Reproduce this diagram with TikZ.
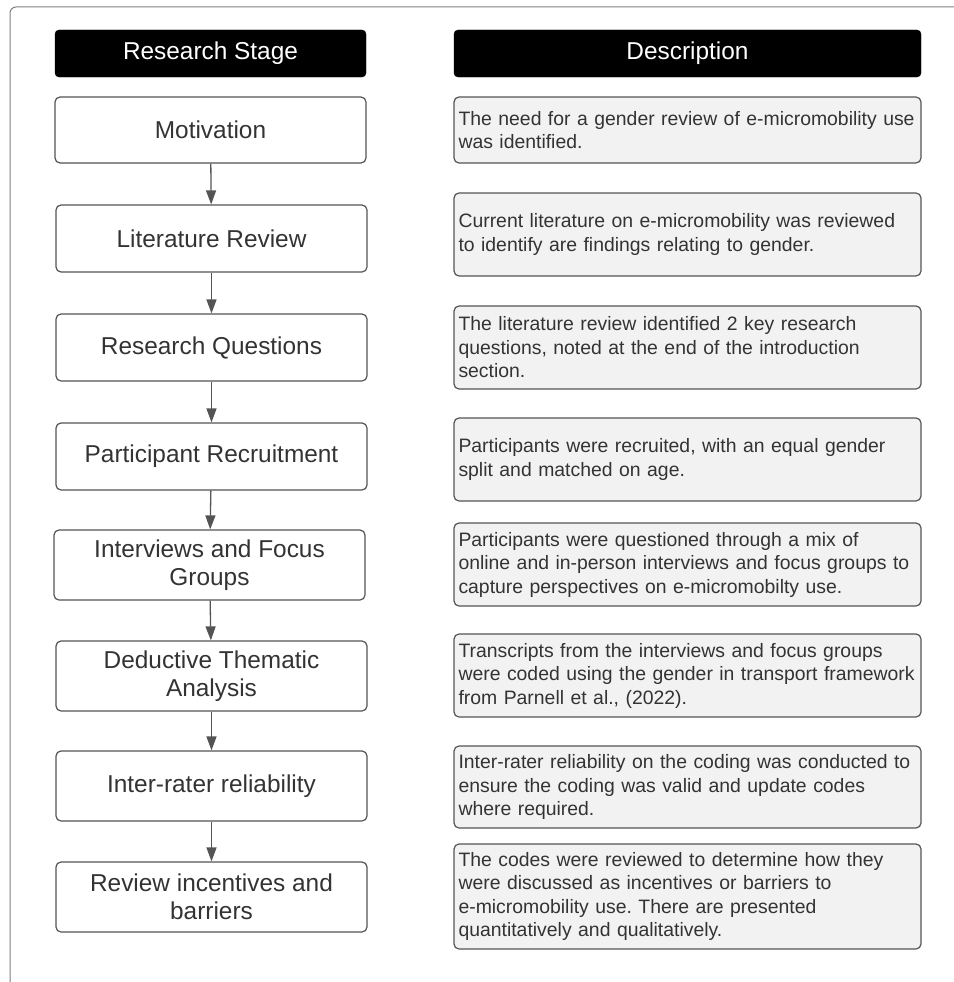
\documentclass[tikz,border=0pt]{standalone}
\usepackage{fontspec}
\setmainfont{Liberation Sans}
\usepackage{xcolor}
\usetikzlibrary{arrows.meta}
\definecolor{BoxLine}{rgb}{0.33,0.33,0.33}
\definecolor{BoxText}{rgb}{0.2,0.2,0.2}
\definecolor{DescFill}{rgb}{0.95,0.95,0.95}
\frenchspacing

\begin{document}
\begin{tikzpicture}[x=1pt, y=-1pt,
		head/.style={fill=black, draw=black, rounded corners=4pt, text=white, minimum height=47pt, inner sep=0pt, font=\fontsize{24.4}{28}\selectfont},
		stagebox/.style={draw=BoxLine, line width=1.2pt, rounded corners=5pt, fill=white, text=BoxText, minimum width=311pt, inner sep=0pt, align=center, font=\fontsize{24.4}{28.5}\selectfont},
		descbox/.style={draw=BoxLine, line width=1.2pt, rounded corners=5pt, fill=DescFill, text=BoxText, minimum width=467pt, text width=458pt, inner xsep=4.5pt, inner ysep=0pt, align=left, font=\fontsize{19.4}{23.5}\selectfont},
		flow/.style={BoxLine, line width=1.3pt, -{Triangle[width=10pt, length=14pt]}}]
		\useasboundingbox (0,0) rectangle (953,982);
		
		% outer frame, right and bottom edges fall outside the page
		\draw [gray, line width=1pt, rounded corners=6pt] (960,7) -- (10,7) -- (10,987) -- (960,987);
		
		\node [head, minimum width=311pt] (stagehead) at (210.5,53.5) {Research Stage};
		\node [head, minimum width=467pt] (deschead) at (687.5,53.5) {Description};
		
		\node [stagebox, minimum height=66pt] (stage1) at (210.5,130) {Motivation};
		\node [stagebox, minimum height=67pt] (stage2) at (211.5,238.5) {Literature Review};
		\node [stagebox, minimum height=67pt] (stage3) at (211.5,347.5) {Research Questions};
		\node [stagebox, minimum height=67pt] (stage4) at (211.5,456.5) {Participant Recruitment};
		\node [stagebox, minimum height=70pt] (stage5) at (209.5,565) {Interviews and Focus\\Groups};
		\node [stagebox, minimum height=70pt] (stage6) at (211.5,676) {Deductive Thematic\\Analysis};
		\node [stagebox, minimum height=70pt] (stage7) at (211.5,786) {Inter-rater reliability};
		\node [stagebox, minimum height=70pt] (stage8) at (211.5,897) {Review incentives and\\barriers};
		
		\node [descbox, minimum height=66pt] (desc1) at (687.5,130) {The need for a gender review of e-micromobility use\\was identified.};
		\node [descbox, minimum height=83pt] (desc2) at (687.5,234.5) {Current literature on e-micromobility was reviewed\\to identify are findings relating to gender.};
		\node [descbox, minimum height=83pt] (desc3) at (687.5,347.5) {The literature review identified 2 key research\\questions, noted at the end of the introduction\\section.};
		\node [descbox, minimum height=83pt] (desc4) at (687.5,459.5) {Participants were recruited, with an equal gender\\split and matched on age.};
		\node [descbox, minimum height=83pt] (desc5) at (687.5,564.5) {Participants were questioned through a mix of\\online and in-person interviews and focus groups to\\capture perspectives on e-micromobilty use.};
		\node [descbox, minimum height=83pt] (desc6) at (687.5,675.5) {Transcripts from the interviews and focus groups\\were coded using the gender in transport framework\\from Parnell et al., (2022).};
		\node [descbox, minimum height=82pt] (desc7) at (687.5,787) {Inter-rater reliability on the coding was conducted to\\ensure the coding was valid and update codes\\where required.};
		\node [descbox, minimum height=105pt] (desc8) at (687.5,896.5) {The codes were reviewed to determine how they\\were discussed as incentives or barriers to\\e-micromobility use. There are presented\\quantitatively and qualitatively.};
		
		\draw [flow] (stage1) -- (stage2);
		\draw [flow] (stage2) -- (stage3);
		\draw [flow] (stage3) -- (stage4);
		\draw [flow] (stage4) -- (stage5);
		\draw [flow] (stage5) -- (stage6);
		\draw [flow] (stage6) -- (stage7);
		\draw [flow] (stage7) -- (stage8);
	\end{tikzpicture}
\end{document}
